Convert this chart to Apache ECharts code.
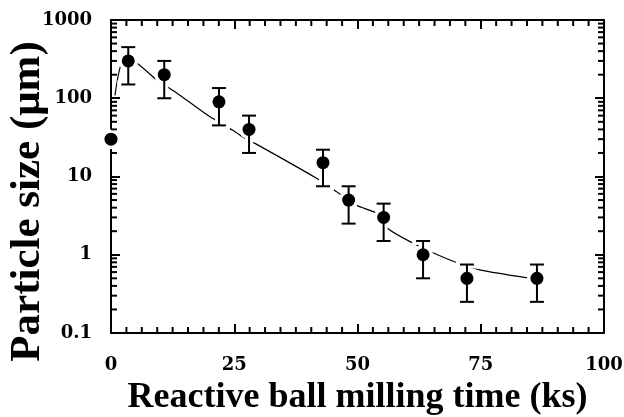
<!DOCTYPE html>
<html>
<head>
<meta charset="utf-8">
<script src="https://cdn.jsdelivr.net/npm/echarts@6/dist/echarts.min.js"></script>
<style>html,body{margin:0;padding:0;background:#fff}#c{width:624px;height:417px}</style>
</head>
<body>
<div id="c"></div>
<script>
// Measured points: milling time (ks) vs particle size (um)
const timeKs = [0, 3.5, 10.8, 21.9, 28, 43, 48.2, 55.3, 63.3, 72.2, 86.4];
const sizeUm = [30, 300, 200, 90, 40, 15, 5, 3, 1, 0.5, 0.5];
const errLow = [null, 150, 100, 45, 20, 7.5, 2.5, 1.5, 0.5, 0.25, 0.25];
const errHigh = [null, 450, 300, 135, 60, 22, 7.5, 4.5, 1.5, 0.75, 0.75];
// Dashed guide curve
const fitX = [0.8, 2.0, 3.4, 5.3, 9.1, 13.4, 19.7, 24.7, 27.4, 29.2, 41.8, 45.4, 49.9, 54.0, 56.2, 61.5, 65.3, 70.2, 74.8, 84.2, 86.4];
const fitY = [109, 265, 307, 281, 175, 116, 60, 39, 30, 26.5, 9.4, 6.6, 4.25, 3.35, 2.15, 1.38, 1.06, 0.79, 0.64, 0.51, 0.5];
// Axis ticks
const xTickLabels = [0, 25, 50, 75, 100];
const xMinorPerMajor = 8;
const yTickLabels = [0.1, 1, 10, 100, 1000];
const logDecades = [0.1, 1, 10, 100];
const logMinorMultipliers = [2, 3, 4, 5, 6, 7, 8, 9];

const logMinorTicks = [];
logDecades.forEach(d => logMinorMultipliers.forEach(m => logMinorTicks.push(+(d * m).toPrecision(3))));
const xMinorTicks = [];
for (let k = 0; k < xTickLabels.length - 1; k++) {
  const a = xTickLabels[k], b = xTickLabels[k + 1];
  for (let j = 1; j < xMinorPerMajor; j++) xMinorTicks.push(a + (b - a) * j / xMinorPerMajor);
}

const labelFont = { fontFamily: 'DejaVu Serif', fontWeight: 'bold', fontSize: 18, color: '#000' };
const titleFont = { fontFamily: 'Liberation Serif', fontWeight: 'bold', color: '#000' };

const chart = echarts.init(document.getElementById('c'), null, { renderer: 'canvas' });

const xBase = {
  type: 'value', min: xTickLabels[0], max: xTickLabels[xTickLabels.length - 1], interval: 25,
  axisLine: { show: true, onZero: false, lineStyle: { color: '#000', width: 2 } },
  axisTick: { show: true, inside: true, length: 9, lineStyle: { color: '#000', width: 2 } },
  splitLine: { show: false }
};
const yBase = {
  type: 'log', logBase: 10, min: yTickLabels[0], max: yTickLabels[yTickLabels.length - 1],
  axisLine: { show: true, onZero: false, lineStyle: { color: '#000', width: 2 } },
  axisTick: { show: true, inside: true, length: 9, lineStyle: { color: '#000', width: 2 } },
  splitLine: { show: false }
};

// One custom item that draws all minor ticks through the axes' own coordinate conversion
function renderMinorTicks(params, api) {
  const cs = params.coordSys;
  const len = 6;
  const kids = [];
  const bottom = cs.y + cs.height, right = cs.x + cs.width;
  xMinorTicks.forEach(v => {
    const px = api.coord([v, 1])[0];
    kids.push({ type: 'line', shape: { x1: px, y1: bottom, x2: px, y2: bottom - len }, style: { stroke: '#000', lineWidth: 2 } });
    kids.push({ type: 'line', shape: { x1: px, y1: cs.y, x2: px, y2: cs.y + len }, style: { stroke: '#000', lineWidth: 2 } });
  });
  logMinorTicks.forEach(v => {
    const py = api.coord([50, v])[1];
    kids.push({ type: 'line', shape: { x1: cs.x, y1: py, x2: cs.x + len, y2: py }, style: { stroke: '#000', lineWidth: 2 } });
    kids.push({ type: 'line', shape: { x1: right, y1: py, x2: right - len, y2: py }, style: { stroke: '#000', lineWidth: 2 } });
  });
  return { type: 'group', children: kids };
}

const option = {
  animation: false,
  backgroundColor: '#fff',
  grid: { left: 111, right: 20, top: 20, bottom: 84, containLabel: false, outerBoundsMode: 'none' },
  xAxis: [
    Object.assign({}, xBase, {
      position: 'bottom',
      axisLabel: Object.assign({ margin: 23, formatter: v => String(v) }, labelFont),
      name: 'Reactive ball milling time (ks)', nameLocation: 'middle', nameGap: 47, nameMoveOverlap: false,
      nameTextStyle: Object.assign({ fontSize: 36 }, titleFont)
    }),
    Object.assign({}, xBase, { position: 'top', axisLabel: { show: false } })
  ],
  yAxis: [
    Object.assign({}, yBase, {
      position: 'left',
      axisLabel: Object.assign({ margin: 19, formatter: v => String(v) }, labelFont),
      name: 'Particle size (\u03bcm)', nameLocation: 'middle', nameGap: 62, nameMoveOverlap: false,
      nameTextStyle: Object.assign({ fontSize: 43, padding: [0, 50, 0, 0] }, titleFont)
    }),
    Object.assign({}, yBase, { position: 'right', axisLabel: { show: false } })
  ],
  series: [
    {
      type: 'line', xAxisIndex: 0, yAxisIndex: 0, z: 1,
      data: fitX.map((x, i) => [x, fitY[i]]),
      smooth: 0.25, showSymbol: false, symbol: 'none',
      lineStyle: { color: '#000', width: 1.2 }, silent: true
    },
    {
      type: 'custom', xAxisIndex: 0, yAxisIndex: 0, z: 2, silent: true, clip: false,
      data: timeKs.map((x, i) => [x, sizeUm[i]]),
      renderItem: function (params, api) {
        const i = params.dataIndex;
        const x = timeKs[i];
        const c = api.coord([x, sizeUm[i]]);
        const kids = [{ type: 'circle', shape: { cx: c[0], cy: c[1], r: 10 }, style: { fill: '#fff' } }];
        if (errLow[i] != null) {
          const lo = api.coord([x, errLow[i]]);
          const hi = api.coord([x, errHigh[i]]);
          const hw = 7;
          const segs = [
            [c[0], lo[1], c[0], hi[1]],
            [c[0] - hw, lo[1], c[0] + hw, lo[1]],
            [c[0] - hw, hi[1], c[0] + hw, hi[1]]
          ];
          segs.forEach(s => kids.push({ type: 'line', shape: { x1: s[0], y1: s[1], x2: s[2], y2: s[3] }, style: { stroke: '#fff', lineWidth: 8, lineCap: 'square' } }));
          segs.forEach(s => kids.push({ type: 'line', shape: { x1: s[0], y1: s[1], x2: s[2], y2: s[3] }, style: { stroke: '#000', lineWidth: 2 } }));
        }
        return { type: 'group', children: kids };
      }
    },
    {
      type: 'scatter', xAxisIndex: 0, yAxisIndex: 0, z: 3, silent: true,
      data: timeKs.map((x, i) => [x, sizeUm[i]]),
      symbol: 'circle', symbolSize: 13,
      itemStyle: { color: '#000', opacity: 1 }
    },
    {
      type: 'custom', xAxisIndex: 0, yAxisIndex: 0, z: 4, silent: true, clip: false,
      data: [[50, 1]],
      renderItem: renderMinorTicks
    }
  ]
};
chart.setOption(option);
</script>
</body>
</html>
